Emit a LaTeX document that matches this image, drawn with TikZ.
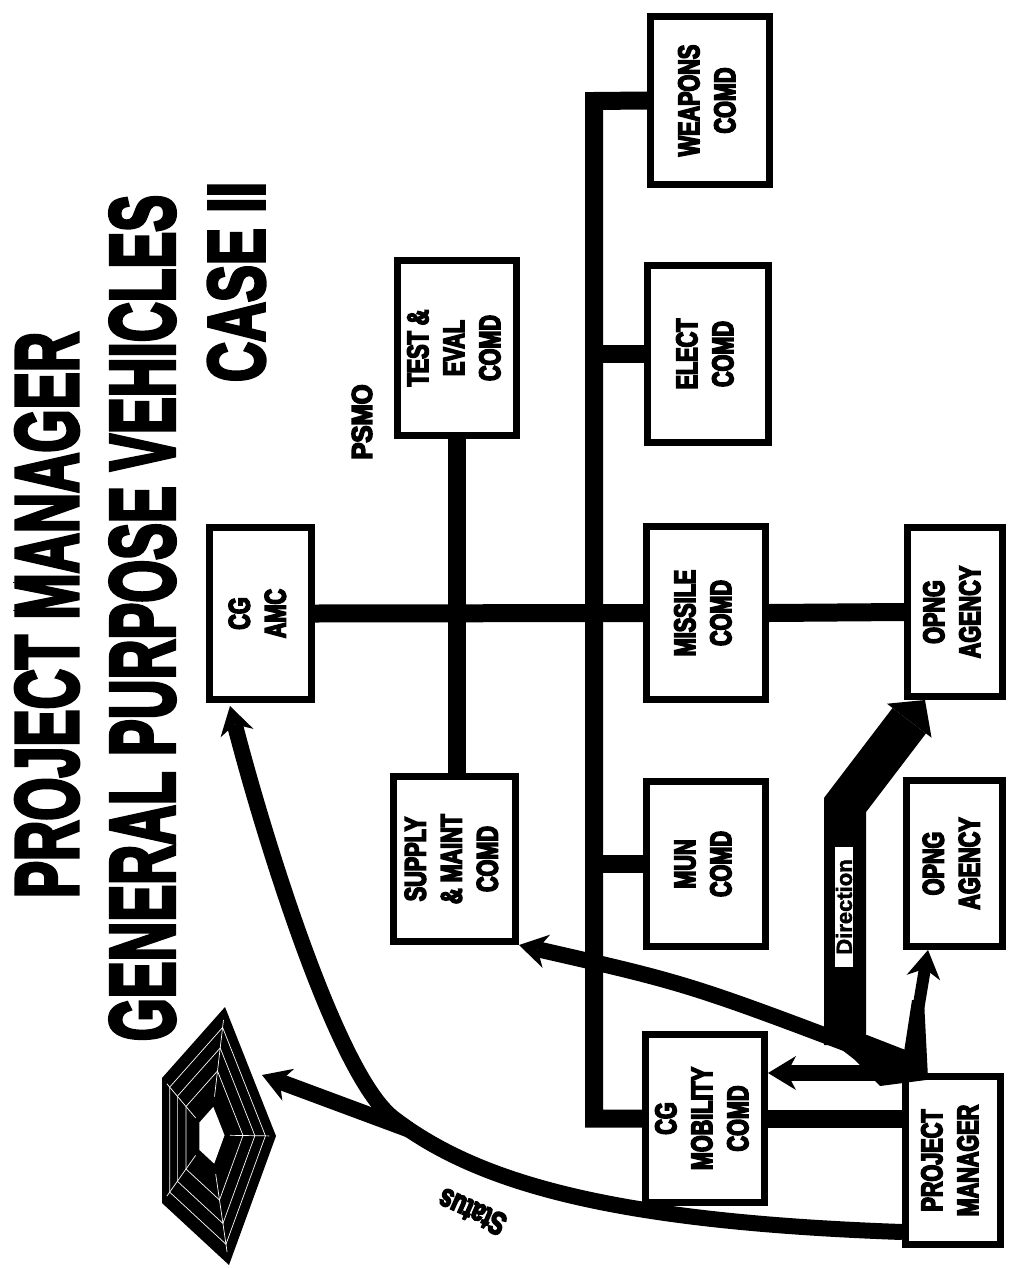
\documentclass[tikz,border=0pt]{standalone}
\usepackage{fontspec}
\newfontfamily\gothic{Liberation Sans Bold}[FakeStretch=0.72,FakeBold=5]
\newfontfamily\heavy{Liberation Sans Bold}[FakeBold=4.5]
\newfontfamily\plainbold{Liberation Sans Bold}[FakeBold=2]
\usetikzlibrary{arrows.meta,calc}

\newcommand{\vlabel}[1]{\rotatebox{90}{\begin{tabular}{@{}c@{}}#1\end{tabular}}}
\newcommand{\boxlabel}{\gothic\fontsize{30}{36}\selectfont}

\begin{document}
\begin{tikzpicture}[x=1pt,y=-1pt,
  unit/.style={draw,line width=7pt,fill=white,inner sep=0pt,font=\boxlabel},
  bar/.style={line width=18pt,line join=miter},
  flow/.style={line width=16pt,-{Stealth[length=28pt,width=34pt,inset=9pt,line width=0pt]}},
  title/.style={inner sep=0pt,font=\heavy}]

\fill[white] (0,0) rectangle (1010,1268);
\useasboundingbox (0,0) rectangle (1010,1268);

% titles
\begin{scope}
\clip (13,150) rectangle (290,1060);
\node[title] (t1) at (47,615) {\rotatebox{90}{\resizebox{566pt}{62pt}{PROJECT MANAGER}}};
\node[title] (t2) at (142.5,618) {\rotatebox{90}{\resizebox{846pt}{64pt}{GENERAL PURPOSE VEHICLES}}};
\node[title] (t3) at (236.5,282) {\rotatebox{90}{\resizebox{200pt}{56pt}{CASE II}}};
\end{scope}
\node[title,font=\gothic] (psmo) at (362,422) {\rotatebox{90}{\resizebox{75pt}{20pt}{PSMO}}};

% commands
\node[unit,minimum width=102pt,minimum height=172pt] (amc) at (260.5,613.5) {\vlabel{CG\\AMC}};
\node[unit,minimum width=119pt,minimum height=175pt] (test) at (457,348) {\vlabel{TEST \&\\EVAL\\COMD}};
\node[unit,minimum width=122pt,minimum height=165pt] (supply) at (454.5,859) {\vlabel{SUPPLY\\\& MAINT\\COMD}};
\node[unit,minimum width=119pt,minimum height=168pt] (weapons) at (710,100.5) {\vlabel{WEAPONS\\COMD}};
\node[unit,minimum width=121pt,minimum height=177pt] (elect) at (708,354) {\vlabel{ELECT\\COMD}};
\node[unit,minimum width=119pt,minimum height=173pt] (missile) at (706,613) {\vlabel{MISSILE\\COMD}};
\node[unit,minimum width=119pt,minimum height=165pt] (mun) at (706,864) {\vlabel{MUN\\COMD}};
\node[unit,minimum width=119pt,minimum height=168pt] (mobility) at (705,1118.5) {\vlabel{CG\\MOBILITY\\COMD}};
\node[unit,minimum width=95pt,minimum height=169pt] (opng1) at (955,612) {\vlabel{OPNG\\AGENCY}};
\node[unit,minimum width=96pt,minimum height=166pt] (opng2) at (954.5,863.5) {\vlabel{OPNG\\AGENCY}};
\node[unit,minimum width=95pt,minimum height=168pt] (pm) at (953,1160.5) {\vlabel{PROJECT\\MANAGER}};

% lines of command
\coordinate (trunktop) at (594,101);
\coordinate (trunkbot) at (594,1118.5);
\draw[bar] (amc.east) -- (missile.west);
\draw[bar] (missile.east) -- (opng1.west);
\draw[bar] (test.south) -- (test.south |- supply.north);
\draw[bar] (weapons.west) -- (trunktop) -- (trunkbot) -- (mobility.west);
\draw[bar] (trunktop |- elect.west) -- (elect.west);
\draw[bar] (trunktop |- mun.west) -- (mun.west);
\draw[bar] (mobility.east) -- (mobility.east -| pm.west);

% pentagon
\coordinate (p1) at (225,1007);
\coordinate (p2) at (276,1136);
\coordinate (p3) at (229,1265);
\coordinate (p4) at (162,1203);
\coordinate (p5) at (162,1078);
\coordinate (pc) at (210,1135);
\fill[line join=round] (p1) -- (p2) -- (p3) -- (p4) -- (p5) -- cycle;
\fill[white] ($(pc)!0.22!(p1)$) -- ($(pc)!0.22!(p2)$) -- ($(pc)!0.22!(p3)$) -- ($(pc)!0.22!(p4)$) -- ($(pc)!0.22!(p5)$) -- cycle;
\foreach \f in {0.5,0.68,0.84}
  \draw[white,line width=0.7pt] ($(pc)!\f!(p1)$) -- ($(pc)!\f!(p2)$) -- ($(pc)!\f!(p3)$) -- ($(pc)!\f!(p4)$) -- ($(pc)!\f!(p5)$) -- cycle;
\foreach \i in {1,...,5}
  \draw[white,line width=0.7pt] ($(pc)!0.3!(p\i)$) -- ($(pc)!0.9!(p\i)$);

% status
\coordinate (amctip) at ($(amc.south west)+(24,3)$);
\coordinate (statusfoot) at ($(pm.south west)+(0,-16)$);
\coordinate (statusknee) at (393,1118);
\coordinate (pentip) at (262,1075);
\draw[flow] (statusfoot) .. controls (620,1222) and (480,1185) .. (statusknee) .. controls (336,1074) and (262,830) .. (amctip);
\draw[flow] (410,1130) -- (pentip);
\node[font=\gothic\fontsize{32}{32}\selectfont,rotate=156,inner sep=0pt] (status) at (472,1212) {Status};

% direction
\coordinate (hub) at (895,1062);
\coordinate (mobtail) at (905,1073);
\fill (823,1035) -- (867,1035) -- (926,1058) -- (926,1080) -- (880,1086) -- (855,1060) -- cycle;
\draw[flow] (hub) .. controls (690,984) .. (supply.south east);
\draw[flow] (mobtail) -- (mobility.east |- mobtail);
\fill (900,1078) -- (912,1000) -- (924,1000) -- (928,1078) -- cycle;
\draw[flow,line width=12pt] (918,1010) -- ($(opng2.south west)+(25,0)$);
\draw[line width=42pt,line join=miter,-{Triangle[length=26pt,width=56pt,line width=0pt]}] (845,1045) -- (845,805) -- ($(opng1.south west)+(21,0)$);
\node[draw,line width=2pt,fill=white,inner sep=0pt,minimum width=20pt,minimum height=122pt,
  font=\plainbold\fontsize{22}{22}\selectfont] (dirlabel) at (844,907) {\rotatebox{90}{Direction}};
\end{tikzpicture}
\end{document}
